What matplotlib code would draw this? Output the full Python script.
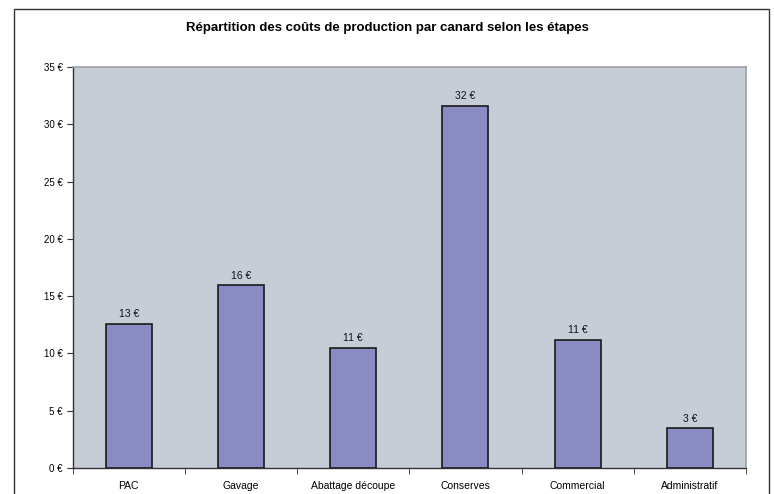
import matplotlib.pyplot as plt
from matplotlib.patches import Rectangle
import numpy as np

# production costs per duck, by stage (euros)
stages = ['PAC', 'Gavage', 'Abattage découpe', 'Conserves', 'Commercial', 'Administratif']
costs = [12.6, 15.95, 10.5, 31.6, 11.2, 3.45]
cost_labels = ['13 €', '16 €', '11 €', '32 €', '11 €', '3 €']
y_ticks = [0, 5, 10, 15, 20, 25, 30, 35]

plt.rcParams['font.family'] = ['Liberation Sans', 'DejaVu Sans']

fig = plt.figure(figsize=(7.74, 4.94), dpi=100)

# outer chart frame
fig.patches.append(Rectangle((14 / 774, -0.05), 755 / 774, 1.05 - 9 / 494,
                             transform=fig.transFigure, fill=False,
                             edgecolor='#333333', linewidth=1.0))

ax = fig.add_axes([72.7 / 774, 26 / 494, 673.3 / 774, 401 / 494])
ax.set_facecolor('#C6CDD6')

x = np.arange(len(stages))
ax.bar(x, costs, width=0.41, color='#8A8AC4', edgecolor='#1a1a1a', linewidth=1.2, zorder=3)

for xi, val, lab in zip(x, costs, cost_labels):
    ax.text(xi, val + 0.4, lab, ha='center', va='bottom', fontsize=7.5, color='#111111')

ax.set_xlim(-0.5, len(stages) - 0.5)
ax.set_ylim(0, 35)

ax.set_yticks(y_ticks)
ax.set_yticklabels([f'{t} €' for t in y_ticks], fontsize=7)
ax.set_xticks(x)
ax.set_xticklabels(stages, fontsize=7.5)
ax.tick_params(axis='x', which='major', length=0, pad=9)
ax.set_xticks(np.arange(-0.5, len(stages), 1), minor=True)
ax.tick_params(axis='x', which='minor', length=4, direction='out', color='#333333')
ax.tick_params(axis='y', length=4, direction='out', color='#333333', pad=3)

for side in ['top', 'right']:
    ax.spines[side].set_color('#9a9fa6')
    ax.spines[side].set_linewidth(1.2)
for side in ['left', 'bottom']:
    ax.spines[side].set_color('#333333')
    ax.spines[side].set_linewidth(1.0)

fig.text(0.5, 1 - 28 / 494, 'Répartition des coûts de production par canard selon les étapes',
         ha='center', va='center', fontsize=9.5, fontweight='bold')

fig.savefig('out.png', dpi=100)
